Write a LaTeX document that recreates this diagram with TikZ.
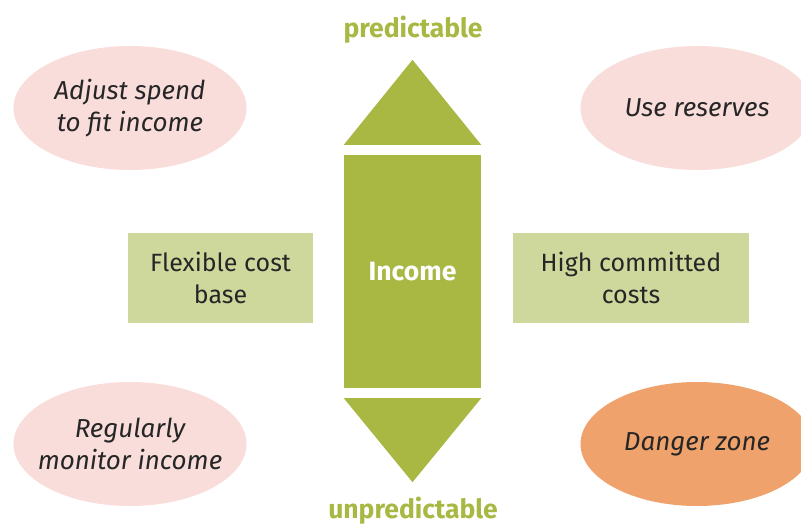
\documentclass[tikz,border=0pt]{standalone}
\usepackage{fontspec}
\setmainfont{Fira Sans}
\usetikzlibrary{shapes.geometric, positioning}
\definecolor{incgreen}{RGB}{168,184,67}
\definecolor{costgreen}{RGB}{207,216,156}
\definecolor{actpink}{RGB}{248,221,219}
\definecolor{dangerorange}{RGB}{239,162,108}
\tikzstyle{income} = [rectangle, fill=incgreen, text=white, inner sep=0pt, minimum width=137pt, minimum height=233pt, font=\bfseries\fontsize{26.5}{30}\selectfont]
\tikzstyle{cost} = [rectangle, fill=costgreen, text=black!85, align=center, inner sep=0pt, minimum height=90pt, font=\fontsize{25}{32}\selectfont]
\tikzstyle{action} = [ellipse, fill=actpink, text=black!85, align=center, inner xsep=-30pt, inner ysep=-10pt, minimum width=233pt, minimum height=124pt, font=\itshape\fontsize{26}{32}\selectfont]
\tikzstyle{danger} = [action, fill=dangerorange]
\tikzstyle{axislabel} = [text=incgreen, font=\bfseries\fontsize{26.5}{30}\selectfont]
\tikzstyle{pointer} = [fill=incgreen]

\begin{document}
\begin{tikzpicture}[x=1pt, y=-1pt]
\useasboundingbox (0,0) rectangle (801,527);

\node (inc) [income] at (412.5,271.5) {Income};
\node (flex) [cost, minimum width=185pt] at (220.5,278) {Flexible cost\\base};
\node (high) [cost, minimum width=236pt] at (631,278) {High committed\\costs};

\node (adjust) [action] at (130,108) {Adjust spend\\to fit income};
\node (reserves) [action] at (697,108) {Use reserves};
\node (monitor) [action] at (130,444) {Regularly\\monitor income};
\node (zone) [danger] at (697,444) {Danger zone};

\fill [pointer] ([yshift=10pt]inc.north west) -- ([yshift=10pt]inc.north east) -- ([yshift=95pt]inc.north) -- cycle;
\fill [pointer] ([yshift=-10pt]inc.south west) -- ([yshift=-10pt]inc.south east) -- ([yshift=-94pt]inc.south) -- cycle;

\node (pred) [axislabel] at (413,30) {predictable};
\node (unpred) [axislabel] at (413,511) {unpredictable};

\end{tikzpicture}
\end{document}
